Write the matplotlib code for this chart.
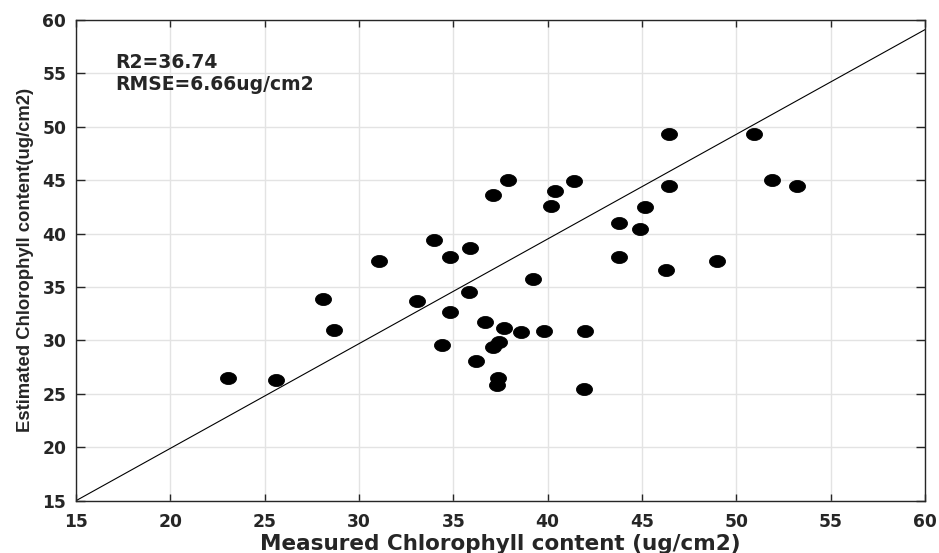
import numpy as np
import matplotlib
matplotlib.use("Agg")
import matplotlib.pyplot as plt
from matplotlib.path import Path

# ---- data ----
measured = [23.04, 25.6, 28.1, 28.7, 31.06, 33.1, 34.0, 34.8, 34.8, 34.4,
            35.9, 35.84, 36.2, 36.7, 37.1, 37.9, 37.7, 37.1, 37.4, 37.35,
            37.3, 38.6, 39.2, 39.8, 40.2, 40.4, 41.4, 42.0, 41.9, 43.8,
            43.8, 44.9, 45.15, 46.45, 46.45, 46.27, 48.98, 50.95, 51.9, 53.2]
estimated = [26.45, 26.3, 33.9, 30.95, 37.46, 33.7, 39.4, 37.8, 32.66, 29.6,
             38.7, 34.5, 28.1, 31.7, 43.6, 45.0, 31.2, 29.4, 29.9, 26.5,
             25.85, 30.76, 35.75, 30.85, 42.6, 44.0, 44.95, 30.85, 25.5, 41.0,
             37.8, 40.45, 42.5, 49.3, 44.45, 36.6, 37.46, 49.3, 45.0, 44.45]
line_x = [15, 60]
line_y = [15, 59.1]
xticks = [15, 20, 25, 30, 35, 40, 45, 50, 55, 60]
yticks = [15, 20, 25, 30, 35, 40, 45, 50, 55, 60]
r2_text = "R2=36.74"
rmse_text = "RMSE=6.66ug/cm2"
xlabel = "Measured Chlorophyll content (ug/cm2)"
ylabel = "Estimated Chlorophyll content(ug/cm2)"

axcol = "#262626"

fig = plt.figure(figsize=(9.39, 5.53), dpi=100)
ax = fig.add_axes([76/939, 1-500.7/553, (925-76)/939, (500.7-20)/553])

# ellipse marker (wider than tall, as in the reference)
t = np.linspace(0, 2*np.pi, 60)
ell = Path(np.column_stack([1.33*np.cos(t), np.sin(t)]), closed=True)

ax.plot(line_x, line_y, color="black", lw=0.8, zorder=2)
ax.plot(measured, estimated, linestyle="none", marker=ell, ms=11.5,
        mfc="black", mec="black", mew=0.6, zorder=3)

ax.set_xlim(15, 60)
ax.set_ylim(15, 60)
ax.set_xticks(xticks)
ax.set_yticks(yticks)
ax.grid(True, color="#e3e3e3", lw=1.0, zorder=0)
ax.set_axisbelow(True)

for sp in ax.spines.values():
    sp.set_color(axcol)
    sp.set_linewidth(1.0)

ax.tick_params(axis="both", direction="in", top=True, right=True,
               colors=axcol, width=1.0)
ax.tick_params(axis="x", length=5.2, pad=9)
ax.tick_params(axis="y", length=6.5, pad=7)
for lab in ax.get_xticklabels() + ax.get_yticklabels():
    lab.set_fontfamily("DejaVu Sans")
    lab.set_fontweight("bold")
    lab.set_fontsize(12.3)
    lab.set_color(axcol)

ax.set_xlabel(xlabel, family="DejaVu Sans", fontweight="bold",
              fontsize=15.5, color=axcol, labelpad=2)
ax.set_ylabel(ylabel, family="Liberation Sans",
              fontweight="bold", fontsize=13.3, color=axcol, labelpad=6)

ax.text(17.1, 56, r2_text, family="DejaVu Sans", fontweight="bold",
        fontsize=13.5, va="center", ha="left", color=axcol)
ax.text(17.1, 54, rmse_text, family="DejaVu Sans", fontweight="bold",
        fontsize=13.5, va="center", ha="left", color=axcol)

fig.savefig("out.png", dpi=100)
